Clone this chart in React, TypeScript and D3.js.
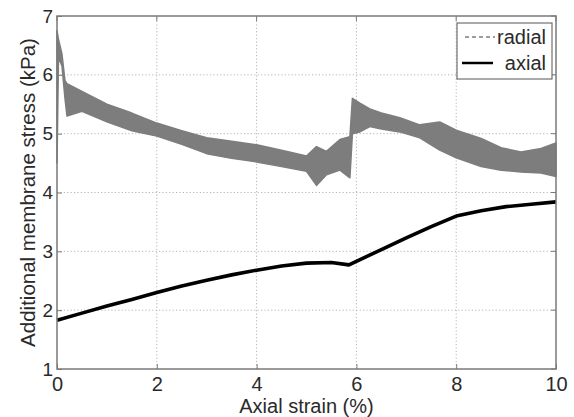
import React, { useRef, useEffect } from "react";
import * as d3 from "d3";

// axial strain (%) vs additional membrane stress (kPa)
const axialX = [0, 0.5, 1, 1.5, 2, 2.5, 3, 3.5, 4, 4.5, 5, 5.5, 5.85, 6, 6.5, 7, 7.5, 8, 8.5, 9, 9.5, 10];
const axialY = [1.83, 1.95, 2.07, 2.18, 2.3, 2.41, 2.51, 2.6, 2.68, 2.75, 2.8, 2.81, 2.77, 2.83, 3.03, 3.23, 3.42, 3.6, 3.69, 3.76, 3.8, 3.84];

// radial trace is very noisy, so keep its upper / lower envelope
const radialX = [0, 0.03, 0.1, 0.16, 0.2, 0.5, 1, 1.5, 2, 2.5, 3, 3.5, 4, 4.5, 5, 5.2, 5.4, 5.67, 5.87, 5.92, 6.07, 6.27, 6.5, 6.87, 7.27, 7.67, 8, 8.5, 8.9, 9.3, 9.7, 10];
const radialHi = [6.75, 6.6, 6.35, 5.9, 5.85, 5.72, 5.5, 5.35, 5.18, 5.05, 4.93, 4.87, 4.81, 4.72, 4.62, 4.78, 4.7, 4.9, 4.95, 5.6, 5.52, 5.42, 5.35, 5.27, 5.15, 5.2, 5.06, 4.92, 4.76, 4.69, 4.75, 4.84];
const radialLo = [4.5, 6.3, 6.15, 5.6, 5.3, 5.38, 5.2, 5.05, 4.96, 4.82, 4.66, 4.58, 4.52, 4.44, 4.36, 4.12, 4.3, 4.38, 4.25, 5.0, 5.03, 5.12, 5.08, 5.03, 4.93, 4.72, 4.59, 4.44, 4.38, 4.35, 4.33, 4.27];

const xTicks = [0, 2, 4, 6, 8, 10];
const yTicks = [1, 2, 3, 4, 5, 6, 7];

const W = 574;
const H = 417;
const margin = { top: 16, right: 18, bottom: 48, left: 57 };

const App = () => {
  const svgRef = useRef(null);

  useEffect(() => {
    const svg = d3.select(svgRef.current);
    svg.selectAll("*").remove();

    const x = d3.scaleLinear().domain([0, 10]).range([margin.left, W - margin.right]);
    const y = d3.scaleLinear().domain([1, 7]).range([H - margin.bottom, margin.top]);

    const axisColor = "#7a7a7a";
    const textColor = "#2a2a2a";
    const font = "Liberation Sans, Arial, sans-serif";

    // grid
    const grid = svg.append("g").attr("stroke", "#b5b5b5").attr("stroke-dasharray", "1.2,2.2");
    xTicks.slice(1, -1).forEach((t) => {
      grid.append("line").attr("x1", x(t)).attr("x2", x(t)).attr("y1", y(1)).attr("y2", y(7));
    });
    yTicks.slice(1, -1).forEach((t) => {
      grid.append("line").attr("x1", x(0)).attr("x2", x(10)).attr("y1", y(t)).attr("y2", y(t));
    });

    // radial band
    const band = d3
      .area()
      .x((i) => x(radialX[i]))
      .y0((i) => y(radialLo[i]))
      .y1((i) => y(radialHi[i]));
    svg
      .append("path")
      .datum(d3.range(radialX.length))
      .attr("d", band)
      .attr("fill", "#7d7d7d")
      .attr("stroke", "#7d7d7d")
      .attr("stroke-width", 1.5)
      .attr("stroke-linejoin", "round");

    // axial line
    const line = d3
      .line()
      .x((i) => x(axialX[i]))
      .y((i) => y(axialY[i]));
    svg
      .append("path")
      .datum(d3.range(axialX.length))
      .attr("d", line)
      .attr("fill", "none")
      .attr("stroke", "#000")
      .attr("stroke-width", 3.6)
      .attr("stroke-linejoin", "round");

    // axes
    const xAxis = d3.axisBottom(x).tickValues(xTicks).tickSize(-5).tickPadding(8).tickFormat(d3.format("d"));
    const yAxis = d3.axisLeft(y).tickValues(yTicks).tickSize(-5).tickPadding(4).tickFormat(d3.format("d"));
    const gx = svg.append("g").attr("transform", `translate(0,${y(1)})`).call(xAxis);
    const gy = svg.append("g").attr("transform", `translate(${x(0)},0)`).call(yAxis);
    gx.selectAll("text").style("font-size", "20px");
    gy.selectAll("text").style("font-size", "19px");
    [gx, gy].forEach((g) => {
      g.select(".domain").remove();
      g.selectAll("line").attr("stroke", axisColor);
      g.selectAll("text").attr("fill", textColor).style("font-family", font);
    });
    // ticks on top / right
    xTicks.forEach((t) => {
      svg.append("line").attr("x1", x(t)).attr("x2", x(t)).attr("y1", y(7)).attr("y2", y(7) + 5).attr("stroke", axisColor);
    });
    yTicks.forEach((t) => {
      svg.append("line").attr("x1", x(10)).attr("x2", x(10) - 5).attr("y1", y(t)).attr("y2", y(t)).attr("stroke", axisColor);
    });

    svg
      .append("rect")
      .attr("x", x(0))
      .attr("y", y(7))
      .attr("width", x(10) - x(0))
      .attr("height", y(1) - y(7))
      .attr("fill", "none")
      .attr("stroke", axisColor)
      .attr("stroke-width", 1.5);

    // axis titles
    svg
      .append("text")
      .attr("x", (x(0) + x(10)) / 2)
      .attr("y", 413)
      .attr("text-anchor", "middle")
      .attr("fill", textColor)
      .style("font-family", font)
      .style("font-size", "20px")
      .text("Axial strain (%)");
    svg
      .append("text")
      .attr("transform", `translate(35,${(y(1) + y(7)) / 2}) rotate(-90)`)
      .attr("text-anchor", "middle")
      .attr("fill", textColor)
      .style("font-family", font)
      .style("font-size", "20.5px")
      .text("Additional membrane stress (kPa)");

    // legend
    const lg = svg.append("g");
    lg.append("rect")
      .attr("x", 457)
      .attr("y", 23)
      .attr("width", 95)
      .attr("height", 56)
      .attr("fill", "#fff")
      .attr("stroke", "#555")
      .attr("stroke-width", 1);
    lg.append("line")
      .attr("x1", 465).attr("x2", 495).attr("y1", 37).attr("y2", 37)
      .attr("stroke", "#7d7d7d").attr("stroke-width", 1.5).attr("stroke-dasharray", "4,3");
    lg.append("line")
      .attr("x1", 462).attr("x2", 493).attr("y1", 63).attr("y2", 63)
      .attr("stroke", "#000").attr("stroke-width", 2.5);
    [["radial", 44], ["axial", 70]].forEach(([t, yy]) => {
      lg.append("text")
        .attr("x", 546)
        .attr("y", yy)
        .attr("text-anchor", "end")
        .attr("fill", textColor)
        .style("font-family", font)
        .style("font-size", "20px")
        .text(t);
    });
  }, []);

  return (
    <svg
      ref={svgRef}
      width={W}
      height={H}
      style={{ position: "absolute", left: 0, top: 0, background: "#fff" }}
    />
  );
};

export default App;
